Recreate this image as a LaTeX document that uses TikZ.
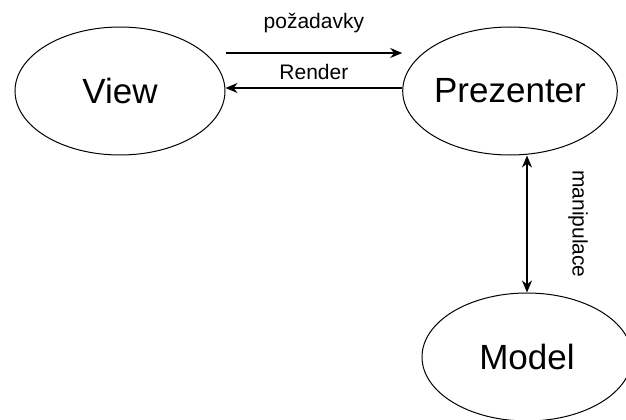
\documentclass[tikz,border=0pt]{standalone}
\usepackage{fontspec}
\setmainfont{Liberation Sans}
\usepackage{tikz}
\usepgflibrary{shapes}
\usetikzlibrary{positioning, arrows.meta}
\tikzset{
  part/.style = {ellipse, draw, line width=1pt, minimum width=210pt, minimum height=128pt, inner sep=0pt, font=\fontsize{35}{42}\selectfont},
  flow/.style = {line width=1.5pt, -{Stealth[length=12pt, width=10pt]}},
  tag/.style = {font=\fontsize{21}{25}\selectfont}
}

\begin{document}
\begin{tikzpicture}[x=1pt, y=-1pt]
                \useasboundingbox (0,0) rectangle (626,420);
                \node [part] (view) at (120,91) {View};
                \node [part] (prezenter) at (510,91) {Prezenter};
                \node [part] (model) at (527,357) {Model};

                \draw [flow] ([yshift=38pt]view.east) -- ([yshift=38pt]prezenter.west)
                  node [tag, midway, yshift=30pt] (pozadavky) {požadavky};
                \draw [flow] ([yshift=3pt]prezenter.west) -- ([yshift=3pt]view.east)
                  node [tag, midway, yshift=16pt] (render) {Render};
                \draw [flow, {Stealth[length=12pt, width=10pt]}-{Stealth[length=12pt, width=10pt]}] (model.north) -- (model.north |- prezenter.south)
                  node [tag, midway, xshift=51pt, rotate=-90] (manipulace) {manipulace};
            \end{tikzpicture}
\end{document}
